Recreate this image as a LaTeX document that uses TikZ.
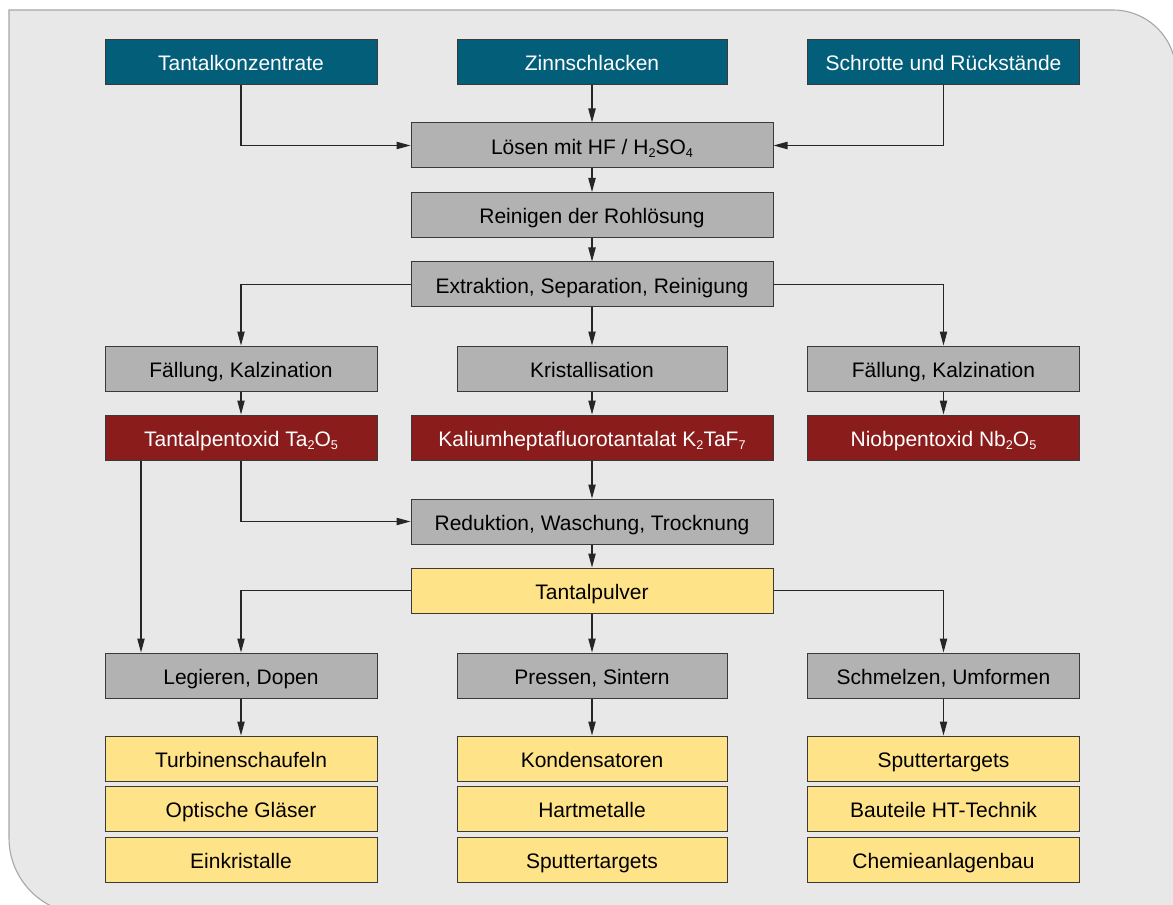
\documentclass[tikz,border=0pt]{standalone}
\usepackage{fontspec}
\setmainfont{Liberation Sans}
\usetikzlibrary{arrows.meta}
\definecolor{cTeal}{HTML}{035E7A}
\definecolor{cGray}{HTML}{B2B2B2}
\definecolor{cRed}{HTML}{8A1C1C}
\definecolor{cYel}{HTML}{FFE388}
\definecolor{cBg}{HTML}{E8E8E8}
\definecolor{cBgLine}{HTML}{A6A6A6}
\definecolor{cBorder}{HTML}{3A3A3A}
\newcommand\chemsub[1]{\raisebox{-0.28ex}{\fontsize{9.5}{10}\selectfont #1}}
\begin{document}
\begin{tikzpicture}[x=0.75pt,y=-0.75pt,
  box/.style={draw=cBorder, line width=0.75pt, minimum height=33.75pt, inner sep=0pt,
    text height=12.8pt, text depth=0pt,
    font=\fontsize{15.75}{18}\selectfont, text=black},
  W/.style={minimum width=204pt},
  C/.style={minimum width=271.5pt},
  N/.style={minimum width=202.5pt},
  src/.style={box, fill=cTeal, text=white},
  proc/.style={box, fill=cGray},
  mat/.style={box, fill=cRed, text=white},
  prod/.style={box, fill=cYel},
  arr/.style={-{Triangle[length=10.5pt,width=5.5pt]}, line width=0.8pt, draw=black!85}]
\useasboundingbox (0,0) rectangle (1173,905);
% background
\filldraw[fill=cBg, draw=cBgLine, line width=0.8pt]
  (9,10) -- (1113,10) .. controls (1147.8,10) and (1176,38.2) .. (1176,73)
  -- (1176,914) -- (85,914) .. controls (43,914) and (9,880) .. (9,838) -- cycle;

% sources
\node[src,W] (tk) at (241,62) {Tantalkonzentrate};
\node[src,N] (zs) at (592,62) {Zinnschlacken};
\node[src,W] (sr) at (943.5,62) {Schrotte und Rückstände};
% processing
\node[proc,C] (hf) at (592,145.5) {Lösen mit HF / H\chemsub{2}SO\chemsub{4}};
\node[proc,C] (rr) at (592,215) {Reinigen der Rohlösung};
\node[proc,C] (ex) at (592,284.5) {Extraktion, Separation, Reinigung};
\node[proc,W] (f1) at (241,368.5) {Fällung, Kalzination};
\node[proc,N] (kr) at (592,368.5) {Kristallisation};
\node[proc,W] (f2) at (943.5,368.5) {Fällung, Kalzination};
% materials
\node[mat,W] (tp) at (241,437.5) {Tantalpentoxid Ta\chemsub{2}O\chemsub{5}};
\node[mat,C] (kh) at (592,437.5) {Kaliumheptafluorotantalat K\chemsub{2}TaF\chemsub{7}};
\node[mat,W] (nb) at (943.5,437.5) {Niobpentoxid Nb\chemsub{2}O\chemsub{5}};
\node[proc,C] (rd) at (592,521.5) {Reduktion, Waschung, Trocknung};
\node[prod,C] (tpv) at (592,590.5) {Tantalpulver};
\node[proc,W] (lg) at (241,675.5) {Legieren, Dopen};
\node[proc,N] (ps) at (592,675.5) {Pressen, Sintern};
\node[proc,W] (sm) at (943.5,675.5) {Schmelzen, Umformen};
% products
\node[prod,W] (l1) at (241,758.5) {Turbinenschaufeln};
\node[prod,W] (l2) at (241,808.5) {Optische Gläser};
\node[prod,W] (l3) at (241,859.5) {Einkristalle};
\node[prod,N] (c1) at (592,758.5) {Kondensatoren};
\node[prod,N] (c2) at (592,808.5) {Hartmetalle};
\node[prod,N] (c3) at (592,859.5) {Sputtertargets};
\node[prod,W] (r1) at (943.5,758.5) {Sputtertargets};
\node[prod,W] (r2) at (943.5,808.5) {Bauteile HT-Technik};
\node[prod,W] (r3) at (943.5,859.5) {Chemieanlagenbau};

% connectors
\draw[arr] (tk.south) |- (hf.west);
\draw[arr] (zs) -- (hf);
\draw[arr] (sr.south) |- (hf.east);
\draw[arr] (hf) -- (rr);
\draw[arr] (rr) -- (ex);
\draw[arr] (ex.west) -| (f1.north);
\draw[arr] (ex) -- (kr);
\draw[arr] (ex.east) -| (f2.north);
\draw[arr] (f1) -- (tp);
\draw[arr] (kr) -- (kh);
\draw[arr] (f2) -- (nb);
\draw[arr] (tp.south) |- (rd.west);
\draw[arr] (kh) -- (rd);
\draw[arr] ([xshift=-75pt]tp.south) -- ([xshift=-75pt]lg.north);
\draw[arr] (rd) -- (tpv);
\draw[arr] (tpv.west) -| (lg.north);
\draw[arr] (tpv) -- (ps);
\draw[arr] (tpv.east) -| (sm.north);
\draw[arr] (lg) -- (l1);
\draw[arr] (ps) -- (c1);
\draw[arr] (sm) -- (r1);
\end{tikzpicture}
\end{document}
